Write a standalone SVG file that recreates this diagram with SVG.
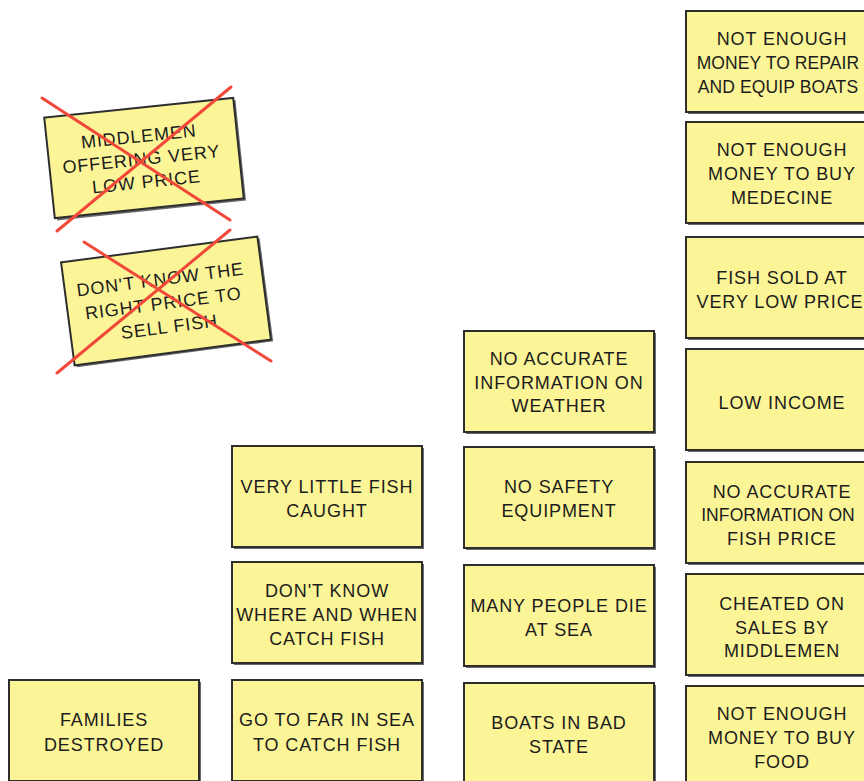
<svg xmlns="http://www.w3.org/2000/svg" width="864" height="781" viewBox="0 0 864 781">
  <defs>
    <style>
      .card { fill: #fbf597; stroke: #2e2e2e; stroke-width: 2; }
      .shadow { fill: #6a6a6a; }
      .txt { font-family: "Liberation Sans", Arial, sans-serif; font-size: 18px; letter-spacing: 0.9px; fill: #1c1c1c; text-anchor: middle; }
      .tight { letter-spacing: 0.1px; font-size: 17.5px; }
      .cross { stroke: #f2483a; stroke-width: 3; stroke-linecap: round; fill: none; }
    </style>
  </defs>
  <rect width="864" height="781" fill="#ffffff"/>

  <!-- crossed-out cards -->
  <g id="middlemen-low-price" transform="translate(144 158) rotate(-6)">
    <rect class="shadow" x="-93" y="-48" width="190" height="101"/>
    <rect class="card" x="-95" y="-50.5" width="190" height="101"/>
    <text class="txt">
      <tspan x="0" y="-16">MIDDLEMEN</tspan>
      <tspan x="0" y="7">OFFERING VERY</tspan>
      <tspan x="0" y="30">LOW PRICE</tspan>
    </text>
  </g>
  <g id="dont-know-right-price" transform="translate(166 301) rotate(-7.5)">
    <rect class="shadow" x="-97" y="-50" width="198" height="104"/>
    <rect class="card" x="-99" y="-52" width="198" height="104"/>
    <text class="txt">
      <tspan x="0" y="-16">DON'T KNOW THE</tspan>
      <tspan x="0" y="8">RIGHT PRICE TO</tspan>
      <tspan x="0" y="32">SELL FISH</tspan>
    </text>
  </g>

  <!-- right column -->
  <g id="no-money-repair">
    <rect class="shadow" x="688" y="13" width="192" height="101"/>
    <rect class="card" x="686" y="11" width="192" height="101"/>
    <text class="txt"><tspan x="782" y="44.5">NOT ENOUGH</tspan><tspan class="tight" x="778" y="68.5">MONEY TO REPAIR</tspan><tspan class="tight" x="778" y="92.5">AND EQUIP BOATS</tspan></text>
  </g>
  <g id="no-money-medicine">
    <rect class="shadow" x="688" y="124" width="192" height="101"/>
    <rect class="card" x="686" y="122" width="192" height="101"/>
    <text class="txt"><tspan x="782" y="155.5">NOT ENOUGH</tspan><tspan x="782" y="179.5">MONEY TO BUY</tspan><tspan x="782" y="203.5">MEDECINE</tspan></text>
  </g>
  <g id="fish-sold-low">
    <rect class="shadow" x="688" y="239" width="192" height="101"/>
    <rect class="card" x="686" y="237" width="192" height="101"/>
    <text class="txt"><tspan x="782" y="283.5">FISH SOLD AT</tspan><tspan x="780" y="307.5">VERY LOW PRICE</tspan></text>
  </g>
  <g id="low-income">
    <rect class="shadow" x="688" y="351" width="192" height="101"/>
    <rect class="card" x="686" y="349" width="192" height="101"/>
    <text class="txt"><tspan x="782" y="408.5">LOW INCOME</tspan></text>
  </g>
  <g id="no-info-fish-price">
    <rect class="shadow" x="688" y="464" width="192" height="101"/>
    <rect class="card" x="686" y="462" width="192" height="101"/>
    <text class="txt"><tspan x="782" y="497.5">NO ACCURATE</tspan><tspan class="tight" x="778" y="520.5">INFORMATION ON</tspan><tspan x="782" y="544.5">FISH PRICE</tspan></text>
  </g>
  <g id="cheated-middlemen">
    <rect class="shadow" x="688" y="576" width="192" height="101"/>
    <rect class="card" x="686" y="574" width="192" height="101"/>
    <text class="txt"><tspan x="782" y="609.5">CHEATED ON</tspan><tspan x="782" y="633.5">SALES BY</tspan><tspan x="782" y="656.5">MIDDLEMEN</tspan></text>
  </g>
  <g id="no-money-food">
    <rect class="shadow" x="688" y="688" width="192" height="101"/>
    <rect class="card" x="686" y="686" width="192" height="101"/>
    <text class="txt"><tspan x="782" y="719.5">NOT ENOUGH</tspan><tspan x="782" y="743.5">MONEY TO BUY</tspan><tspan x="782" y="767.5">FOOD</tspan></text>
  </g>

  <!-- middle column -->
  <g id="no-info-weather">
    <rect class="shadow" x="466" y="333" width="190" height="101"/>
    <rect class="card" x="464" y="331" width="190" height="101"/>
    <text class="txt"><tspan x="559" y="364.5">NO ACCURATE</tspan><tspan x="559" y="388.5">INFORMATION ON</tspan><tspan x="559" y="411.5">WEATHER</tspan></text>
  </g>
  <g id="no-safety-equipment">
    <rect class="shadow" x="466" y="449" width="190" height="101"/>
    <rect class="card" x="464" y="447" width="190" height="101"/>
    <text class="txt"><tspan x="559" y="492.5">NO SAFETY</tspan><tspan x="559" y="516.5">EQUIPMENT</tspan></text>
  </g>
  <g id="people-die-at-sea">
    <rect class="shadow" x="466" y="567" width="190" height="101"/>
    <rect class="card" x="464" y="565" width="190" height="101"/>
    <text class="txt"><tspan x="559" y="611.5">MANY PEOPLE DIE</tspan><tspan x="559" y="635.5">AT SEA</tspan></text>
  </g>
  <g id="boats-bad-state">
    <rect class="shadow" x="466" y="685" width="190" height="101"/>
    <rect class="card" x="464" y="683" width="190" height="101"/>
    <text class="txt"><tspan x="559" y="728.5">BOATS IN BAD</tspan><tspan x="559" y="752.5">STATE</tspan></text>
  </g>

  <!-- second column -->
  <g id="little-fish-caught">
    <rect class="shadow" x="234" y="448" width="190" height="101"/>
    <rect class="card" x="232" y="446" width="190" height="101"/>
    <text class="txt"><tspan x="327" y="492.5">VERY LITTLE FISH</tspan><tspan x="327" y="516.5">CAUGHT</tspan></text>
  </g>
  <g id="dont-know-where-when">
    <rect class="shadow" x="234" y="564" width="190" height="101"/>
    <rect class="card" x="232" y="562" width="190" height="101"/>
    <text class="txt"><tspan x="327" y="596.5">DON'T KNOW</tspan><tspan x="327" y="620.5">WHERE AND WHEN</tspan><tspan x="327" y="644.5">CATCH FISH</tspan></text>
  </g>
  <g id="go-far-in-sea">
    <rect class="shadow" x="234" y="682" width="190" height="101"/>
    <rect class="card" x="232" y="680" width="190" height="101"/>
    <text class="txt"><tspan x="327" y="725.5">GO TO FAR IN SEA</tspan><tspan x="327" y="750.5">TO CATCH FISH</tspan></text>
  </g>

  <!-- first column -->
  <g id="families-destroyed">
    <rect class="shadow" x="11" y="682" width="190" height="101"/>
    <rect class="card" x="9" y="680" width="190" height="101"/>
    <text class="txt"><tspan x="104" y="725.5">FAMILIES</tspan><tspan x="104" y="750.5">DESTROYED</tspan></text>
  </g>

  <!-- strike-through marks -->
  <g id="connectors">
    <line class="cross" x1="42" y1="98" x2="230" y2="220"/>
    <line class="cross" x1="57" y1="231" x2="231" y2="87"/>
    <line class="cross" x1="84" y1="242" x2="271" y2="361"/>
    <line class="cross" x1="57" y1="373" x2="230" y2="230"/>
  </g>
</svg>
